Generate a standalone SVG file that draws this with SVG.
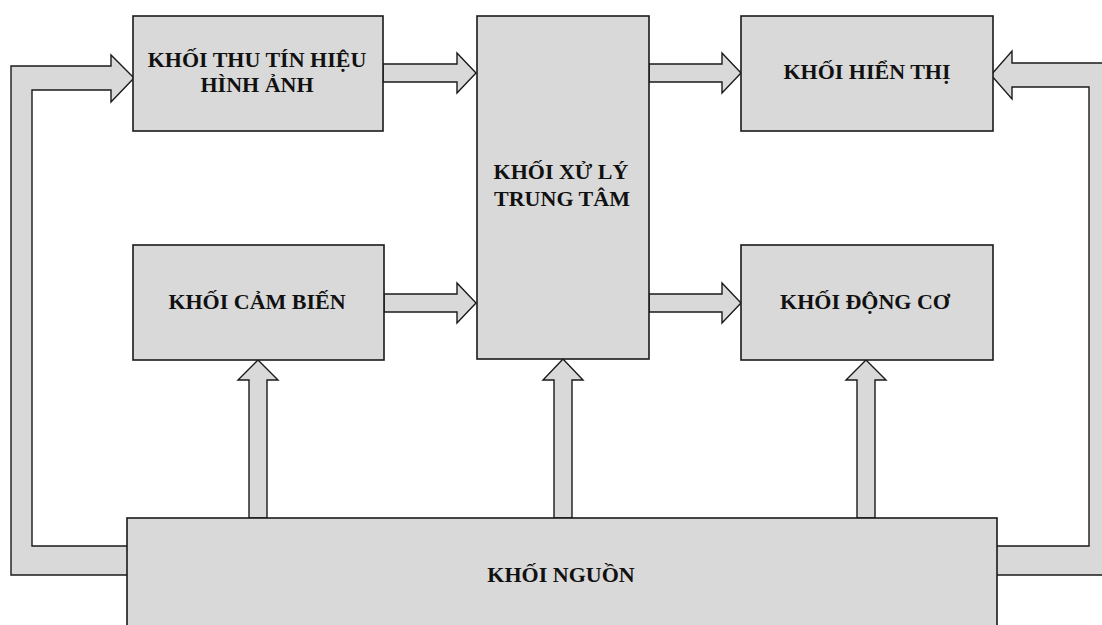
<svg xmlns="http://www.w3.org/2000/svg" width="1102" height="625" viewBox="0 0 1102 625">
<style>
.box{fill:#d9d9d9;stroke:#1a1a1a;stroke-width:1.6}
.arr{fill:#d9d9d9;stroke:#1a1a1a;stroke-width:1.4;stroke-linejoin:miter}
.lbl{font-family:"Liberation Serif","Times New Roman",serif;font-weight:bold;font-size:22px;fill:#111;text-anchor:middle}
</style>
<rect width="1102" height="625" fill="#ffffff"/>
<g id="connectors">
<polygon class="arr" points="11,575 128,575 128,546 32,546 32,90 111,90 111,102 134,78 111,55 111,66 11,66"/>
<polygon class="arr" points="996,575 1112,575 1112,63 1012,63 1012,51 991,75 1012,99 1012,87 1089,87 1089,546 996,546"/>
<polygon class="arr" points="383,64 457,64 457,53 476,73 457,93 457,82 383,82"/>
<polygon class="arr" points="649,64 722,64 722,53 741,73 722,93 722,82 649,82"/>
<polygon class="arr" points="384,294 457,294 457,283 476,303 457,323 457,312 384,312"/>
<polygon class="arr" points="649,294 722,294 722,283 741,303 722,323 722,312 649,312"/>
<polygon class="arr" points="249,518 249,380 238,380 258,360 278,380 267,380 267,518"/>
<polygon class="arr" points="554,518 554,380 543,380 563,359 583,380 572,380 572,518"/>
<polygon class="arr" points="857,518 857,380 846,380 866,360 886,380 875,380 875,518"/>
</g>
<g id="thu-tin-hieu">
<rect class="box" x="133" y="16" width="250" height="115"/>
<text class="lbl" x="257" y="67">KHỐI THU TÍN HIỆU</text>
<text class="lbl" x="257" y="92">HÌNH ẢNH</text>
</g>
<g id="xu-ly">
<rect class="box" x="477" y="16" width="172" height="343"/>
<text class="lbl" x="561" y="179">KHỐI XỬ LÝ</text>
<text class="lbl" x="562" y="206">TRUNG TÂM</text>
</g>
<g id="hien-thi">
<rect class="box" x="741" y="16" width="252" height="115"/>
<text class="lbl" x="867" y="79">KHỐI HIỂN THỊ</text>
</g>
<g id="cam-bien">
<rect class="box" x="133" y="245" width="251" height="115"/>
<text class="lbl" x="257" y="309">KHỐI CẢM BIẾN</text>
</g>
<g id="dong-co">
<rect class="box" x="741" y="245" width="252" height="115"/>
<text class="lbl" x="865" y="309">KHỐI ĐỘNG CƠ</text>
</g>
<g id="nguon">
<rect class="box" x="127" y="518" width="870" height="115"/>
<text class="lbl" x="561" y="582">KHỐI NGUỒN</text>
</g>
</svg>
